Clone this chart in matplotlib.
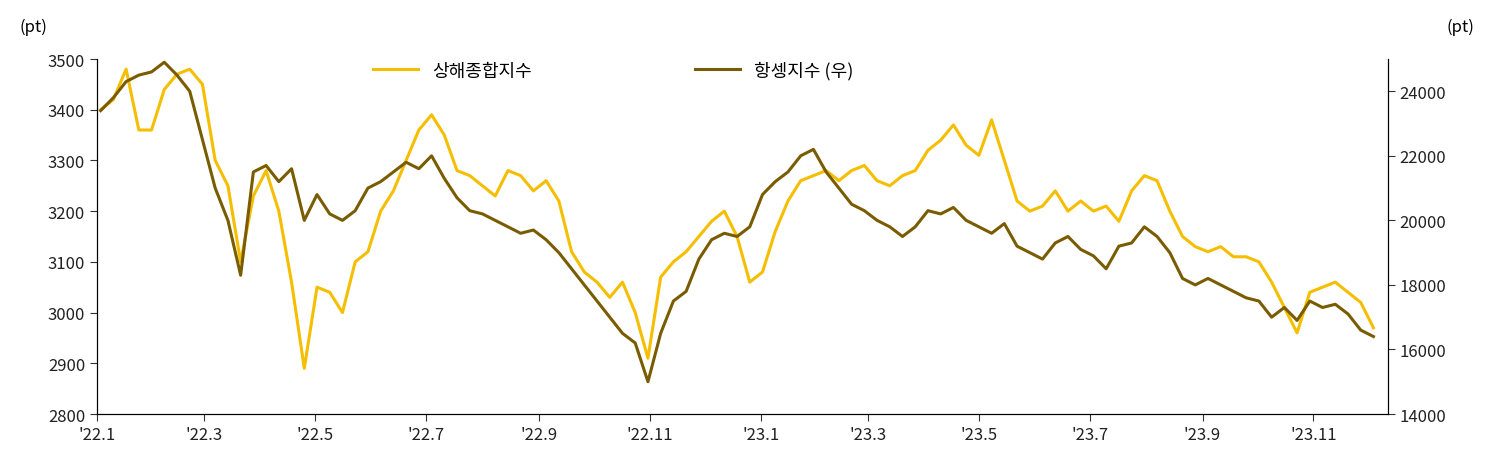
import matplotlib
matplotlib.use("Agg")
import matplotlib.pyplot as plt
import pandas as pd

plt.rcParams["font.family"] = ["Noto Sans CJK KR", "Noto Sans CJK JP", "Noto Sans CJK SC", "DejaVu Sans"]

dates = pd.date_range("2022-01-03", periods=101, freq="7D")
sse = [3400, 3420, 3480, 3360,
       3360, 3440, 3470, 3480,
       3450, 3300, 3250, 3100, 3230,
       3280, 3200, 3060, 2890,
       3050, 3040, 3000, 3100, 3120,
       3200, 3240, 3300, 3360,
       3390, 3350, 3280, 3270, 3250,
       3230, 3280, 3270, 3240,
       3260, 3220, 3120, 3080,
       3060, 3030, 3060, 3000, 2910,
       3070, 3100, 3120, 3150,
       3180, 3200, 3150, 3060,
       3080, 3160, 3220, 3260,
       3270, 3280, 3260, 3280,
       3290, 3260, 3250, 3270, 3280,
       3320, 3340, 3370, 3330,
       3310, 3380, 3300, 3220,
       3200, 3210, 3240, 3200,
       3220, 3200, 3210, 3180, 3240,
       3270, 3260, 3200, 3150,
       3130, 3120, 3130, 3110,
       3110, 3100, 3060, 3010, 2960,
       3040, 3050, 3060, 3040,
       3020, 2970]
hsi = [23400, 23800, 24300, 24500,
       24600, 24900, 24500, 24000,
       22500, 21000, 20000, 18300, 21500,
       21700, 21200, 21600, 20000,
       20800, 20200, 20000, 20300, 21000,
       21200, 21500, 21800, 21600,
       22000, 21300, 20700, 20300, 20200,
       20000, 19800, 19600, 19700,
       19400, 19000, 18500, 18000,
       17500, 17000, 16500, 16200, 15000,
       16500, 17500, 17800, 18800,
       19400, 19600, 19500, 19800,
       20800, 21200, 21500, 22000,
       22200, 21500, 21000, 20500,
       20300, 20000, 19800, 19500, 19800,
       20300, 20200, 20400, 20000,
       19800, 19600, 19900, 19200,
       19000, 18800, 19300, 19500,
       19100, 18900, 18500, 19200, 19300,
       19800, 19500, 19000, 18200,
       18000, 18200, 18000, 17800,
       17600, 17500, 17000, 17300, 16900,
       17500, 17300, 17400, 17100,
       16600, 16400]
tick_dates = pd.date_range("2022-01-01", periods=12, freq="2MS")
tick_labels = ["'22.1", "'22.3", "'22.5", "'22.7", "'22.9", "'22.11",
               "'23.1", "'23.3", "'23.5", "'23.7", "'23.9", "'23.11"]

yellow = "#F5BE00"
brown = "#7A5C00"

fig = plt.figure(figsize=(15.01, 4.52), dpi=100)
ax = fig.add_axes([97/1501, 1-415/452, (1388-97)/1501, (415-60)/452])
ax2 = ax.twinx()
l1, = ax.plot(dates, sse, color=yellow, lw=2.2, label="상해종합지수")
l2, = ax2.plot(dates, hsi, color=brown, lw=2.2, label="항셍지수 (우)")
ax.set_ylim(2800, 3500)
ax2.set_ylim(14000, 25000)
ax2.set_yticks(range(14000, 25000, 2000))
ax.set_xlim(pd.Timestamp("2022-01-01"), pd.Timestamp("2023-12-12"))
ax.set_xticks(tick_dates)
ax.set_xticklabels(tick_labels)
for a in (ax, ax2):
    a.spines["top"].set_visible(False)
    a.tick_params(labelsize=12, length=5, color="#333333", labelcolor="#222222")
ax.text(-0.06, 1.08, "(pt)", transform=ax.transAxes, fontsize=12)
ax2.text(1.045, 1.08, "(pt)", transform=ax.transAxes, fontsize=12)
ax.legend([l1, l2], [l1.get_label(), l2.get_label()], loc="upper center",
          bbox_to_anchor=(0.4, 1.04), ncol=2, frameon=False, fontsize=13,
          columnspacing=9, handlelength=2.5)
fig.savefig("out.png", dpi=100)
